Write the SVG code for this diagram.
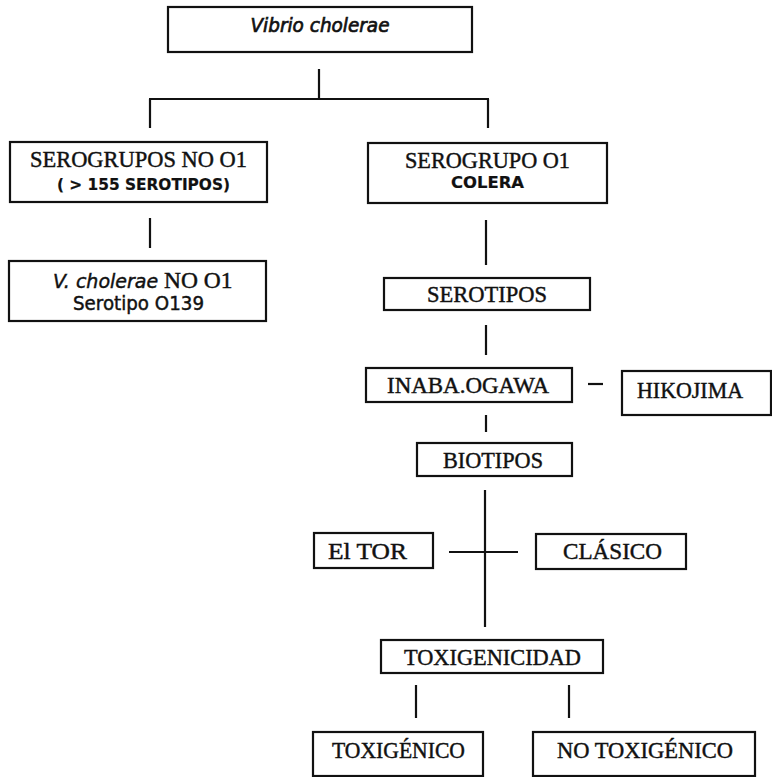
<svg xmlns="http://www.w3.org/2000/svg" width="772" height="777" viewBox="0 0 772 777">
<style>
.box{fill:none;stroke:#111;stroke-width:2.2}
.ln{stroke:#111;stroke-width:2.2;fill:none}
text{fill:#111;stroke:#111;stroke-width:0.45}
.t{font-family:"Liberation Serif","Times New Roman",serif;font-size:23.5px;text-anchor:middle}
.s{font-family:"DejaVu Sans","Liberation Sans",sans-serif;font-size:16px;font-weight:bold;text-anchor:middle;stroke-width:0.2}
.i{font-family:"DejaVu Sans","Liberation Sans",sans-serif;font-size:19px;font-style:italic}
.r{font-family:"DejaVu Sans","Liberation Sans",sans-serif;font-size:19px;text-anchor:middle}
</style>
<rect width="772" height="777" fill="#fff" stroke="none"/>
<g id="connectors">
<line class="ln" x1="319" y1="69" x2="319" y2="99"/>
<line class="ln" x1="149" y1="99" x2="489" y2="99"/>
<line class="ln" x1="150" y1="99" x2="150" y2="128"/>
<line class="ln" x1="488" y1="99" x2="488" y2="128"/>
<line class="ln" x1="150" y1="218" x2="150" y2="248"/>
<line class="ln" x1="486" y1="220" x2="486" y2="265"/>
<line class="ln" x1="486" y1="325" x2="486" y2="355"/>
<line class="ln" x1="588" y1="384" x2="603" y2="384"/>
<line class="ln" x1="486" y1="415" x2="486" y2="432"/>
<line class="ln" x1="485" y1="490" x2="485" y2="627"/>
<line class="ln" x1="449" y1="552" x2="518" y2="552"/>
<line class="ln" x1="416" y1="685" x2="416" y2="718"/>
<line class="ln" x1="569" y1="685" x2="569" y2="718"/>
</g>
<g id="vibrio">
<rect class="box" x="168" y="7" width="304" height="45"/>
<text class="i" x="320" y="32" text-anchor="middle" textLength="139" lengthAdjust="spacingAndGlyphs" style="stroke-width:0.7">Vibrio cholerae</text>
</g>
<g id="serogrupos-no-o1">
<rect class="box" x="10" y="142" width="257" height="60"/>
<text class="t" x="138.5" y="167" textLength="217" lengthAdjust="spacingAndGlyphs">SEROGRUPOS NO O1</text>
<text class="s" x="143.5" y="190" textLength="173" lengthAdjust="spacingAndGlyphs">( &gt; 155 SEROTIPOS)</text>
</g>
<g id="serogrupo-o1">
<rect class="box" x="368" y="143" width="239" height="60"/>
<text class="t" x="487.5" y="168" textLength="165" lengthAdjust="spacingAndGlyphs">SEROGRUPO O1</text>
<text class="s" x="487.5" y="188" textLength="73" lengthAdjust="spacingAndGlyphs">COLERA</text>
</g>
<g id="vcholerae-o139">
<rect class="box" x="9" y="261" width="257" height="60"/>
<text x="53" y="288"><tspan class="i">V. cholerae</tspan><tspan font-family="Liberation Serif,serif" font-size="23.5"> NO O1</tspan></text>
<text class="r" x="138.5" y="310" textLength="131" lengthAdjust="spacingAndGlyphs">Serotipo O139</text>
</g>
<g id="serotipos">
<rect class="box" x="384" y="278" width="206" height="32"/>
<text class="t" x="487" y="302" textLength="120" lengthAdjust="spacingAndGlyphs">SEROTIPOS</text>
</g>
<g id="inaba-ogawa">
<rect class="box" x="366" y="368" width="206" height="34"/>
<text class="t" x="468" y="393" textLength="162" lengthAdjust="spacingAndGlyphs">INABA.OGAWA</text>
</g>
<g id="hikojima">
<rect class="box" x="622" y="371" width="149" height="44"/>
<text class="t" x="690" y="398" textLength="106" lengthAdjust="spacingAndGlyphs">HIKOJIMA</text>
</g>
<g id="biotipos">
<rect class="box" x="417" y="443" width="155" height="33"/>
<text class="t" x="493" y="468" textLength="100" lengthAdjust="spacingAndGlyphs">BIOTIPOS</text>
</g>
<g id="el-tor">
<rect class="box" x="314" y="533" width="119" height="35"/>
<text class="t" x="367.5" y="559" textLength="79" lengthAdjust="spacingAndGlyphs">El TOR</text>
</g>
<g id="clasico">
<rect class="box" x="536" y="534" width="150" height="35"/>
<text class="t" x="612.5" y="559" textLength="99" lengthAdjust="spacingAndGlyphs">CLÁSICO</text>
</g>
<g id="toxigenicidad">
<rect class="box" x="381" y="640" width="222" height="33"/>
<text class="t" x="492.5" y="665" textLength="177" lengthAdjust="spacingAndGlyphs">TOXIGENICIDAD</text>
</g>
<g id="toxigenico">
<rect class="box" x="313" y="732" width="170" height="44"/>
<text class="t" x="398.5" y="758" textLength="133" lengthAdjust="spacingAndGlyphs">TOXIGÉNICO</text>
</g>
<g id="no-toxigenico">
<rect class="box" x="533" y="732" width="222" height="44"/>
<text class="t" x="645" y="758" textLength="176" lengthAdjust="spacingAndGlyphs">NO TOXIGÉNICO</text>
</g>
</svg>
